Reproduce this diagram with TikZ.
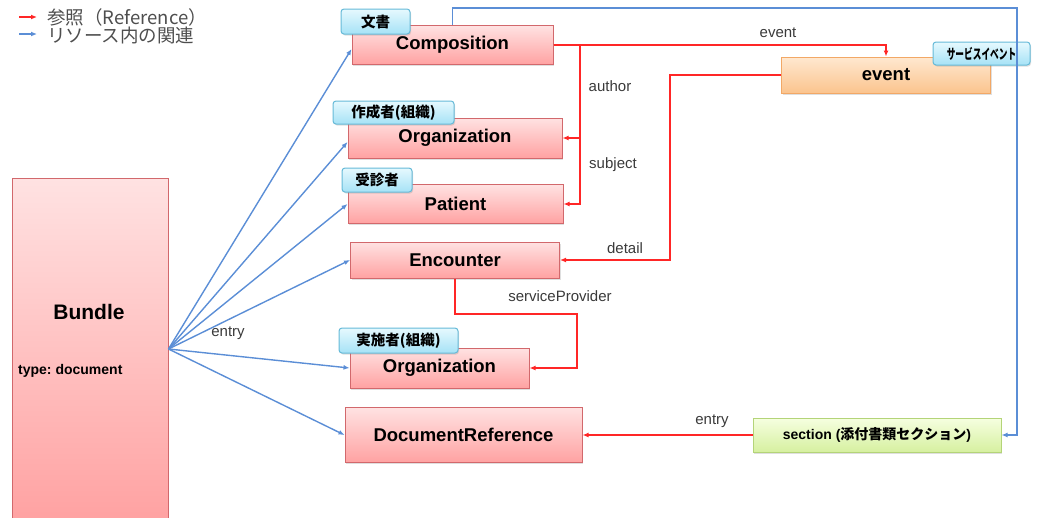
\documentclass[tikz,border=0pt]{standalone}
\usepackage{fontspec}
\setmainfont{Liberation Sans}
\newfontfamily\cjk{Noto Sans CJK JP}
\newfontfamily\cjknarrow{Noto Sans CJK JP}[FakeStretch=0.62]
\usetikzlibrary{arrows.meta,shadows}

\definecolor{refred}{HTML}{FF2626}
\definecolor{relblue}{HTML}{5B8ED6}
\definecolor{resline}{HTML}{D2686C}
\definecolor{restop}{HTML}{FFE2E2}
\definecolor{resbot}{HTML}{FFA2A2}
\definecolor{tagline}{HTML}{66BAD8}
\definecolor{tagtop}{HTML}{E6F9FE}
\definecolor{tagbot}{HTML}{A6E2F6}
\definecolor{evline}{HTML}{F2A866}
\definecolor{evtop}{HTML}{FFE8D0}
\definecolor{evbot}{HTML}{FBC48E}
\definecolor{secline}{HTML}{B4D478}
\definecolor{sectop}{HTML}{F6FFE0}
\definecolor{secbot}{HTML}{D6F0A0}
\definecolor{lbltext}{HTML}{3A3A3A}

\tikzset{
  shade/.style={drop shadow={shadow xshift=1pt,shadow yshift=-1.5pt,opacity=0.25}},
  resbox/.style={shade, draw=resline, line width=1pt, top color=restop, bottom color=resbot,
    inner sep=0pt, font=\bfseries\fontsize{18.5}{21}\selectfont},
  evbox/.style={resbox, draw=evline, top color=evtop, bottom color=evbot},
  secbox/.style={resbox, draw=secline, top color=sectop, bottom color=secbot,
    font=\bfseries\fontsize{14}{16}\selectfont},
  tagbox/.style={shade, draw=tagline, line width=1pt, rounded corners=3pt, top color=tagtop,
    bottom color=tagbot, inner sep=0pt, font=\cjk\bfseries\fontsize{14.5}{16}\selectfont},
  refline/.style={draw=refred, line width=2pt, -{Latex[length=6pt,width=5pt]}},
  relline/.style={draw=relblue, line width=1.4pt, -{Latex[length=6pt,width=5pt]}},
  lbl/.style={text=lbltext, font=\fontsize{15}{17}\selectfont},
  legend/.style={anchor=west, text=lbltext!90, inner sep=0pt, font=\cjk\fontsize{18.5}{19}\selectfont}
}

\begin{document}
\frenchspacing
\begin{tikzpicture}[x=1pt,y=-1pt]
\useasboundingbox (0,0) rectangle (1041,517);
%
\coordinate (refA) at (19,17);
\coordinate (refB) at (37,17);
\coordinate (relA) at (19,34);
\coordinate (relB) at (37,34);
\draw[refline] (refA) -- (refB);
\draw[relline] (relA) -- (relB);
\node[legend] (refText) at (47,17) {参照（Reference）};
\node[legend] (relText) at (47,35) {リソース内の関連};
%
\node[resbox, minimum width=156pt, minimum height=342pt] (bundle) at (90,349) {};
\node[font=\bfseries\fontsize{21}{24}\selectfont] (bundleName) at (89,312) {Bundle};
\node[anchor=west, inner sep=0pt, font=\bfseries\fontsize{14}{16}\selectfont] (bundleType) at (18,371) {type: document};
%
\node[resbox, minimum width=201pt, minimum height=39pt] (comp) at (452.5,45) {Composition};
\node[resbox, minimum width=214pt, minimum height=40pt] (orgA) at (455,138) {Organization};
\node[resbox, minimum width=215pt, minimum height=39pt] (pat) at (455.5,204) {Patient};
\node[resbox, minimum width=209pt, minimum height=36pt] (enc) at (455,260) {Encounter};
\node[resbox, minimum width=179pt, minimum height=40pt] (orgB) at (439.5,368) {Organization};
\node[resbox, minimum width=237pt, minimum height=55pt] (docref) at (463.5,435) {DocumentReference};
\node[evbox, minimum width=209pt, minimum height=36pt] (event) at (886,75) {event};
\node[secbox, minimum width=248pt, minimum height=34pt] (sec) at (877,435) {section ({\cjk 添付書類セクション})};
%
\node[tagbox, minimum width=69pt, minimum height=25pt] (tagComp) at (375.5,21.5) {文書};
\node[tagbox, minimum width=121pt, minimum height=23pt] (tagOrgA) at (393.5,112.5) {作成者(組織)};
\node[tagbox, minimum width=70pt, minimum height=24pt] (tagPat) at (377,180) {受診者};
\node[tagbox, minimum width=119pt, minimum height=25pt] (tagOrgB) at (398.5,340.5) {実施者(組織)};
\node[tagbox, minimum width=97pt, minimum height=23pt, font=\cjknarrow\bfseries\fontsize{14}{16}\selectfont] (tagEvent) at (981.5,53.5) {サービスイベント};
%
\draw[relline] (bundle.east) -- ([yshift=-4pt]comp.west);
\draw[relline] (bundle.east) -- ([yshift=-4pt]orgA.west);
\draw[relline] (bundle.east) -- (pat.west);
\draw[relline] (bundle.east) -- (enc.west);
\draw[relline] (bundle.east) -- (orgB.west);
\draw[relline] (bundle.east) -- (docref.west);
\node[lbl] (entryA) at (228,333) {entry};
%
\draw[refline] (comp.east) -| (event.north);
\draw[refline] (comp.east) -- ++(26,0) |- (orgA.east);
\draw[refline] (comp.east) -- ++(26,0) |- (pat.east);
\draw[refline] (event.west) -- ++(-111.5,0) |- (enc.east);
\draw[refline] (enc.south) -- ++(0,35) -- ++(122,0) |- (orgB.east);
\draw[refline] (sec.west) -- (docref.east);
\node[lbl] (lblEvent) at (778,33) {event};
\node[lbl] (lblAuthor) at (610,86) {author};
\node[lbl] (lblSubject) at (613,165) {subject};
\node[lbl] (lblDetail) at (625,248) {detail};
\node[lbl] (lblProvider) at (560,296) {serviceProvider};
\node[lbl] (entryB) at (712,421) {entry};
%
\coordinate (corner) at (1017,8);
\draw[relline] (comp.north) |- (corner) |- (sec.east);
\end{tikzpicture}
\end{document}
